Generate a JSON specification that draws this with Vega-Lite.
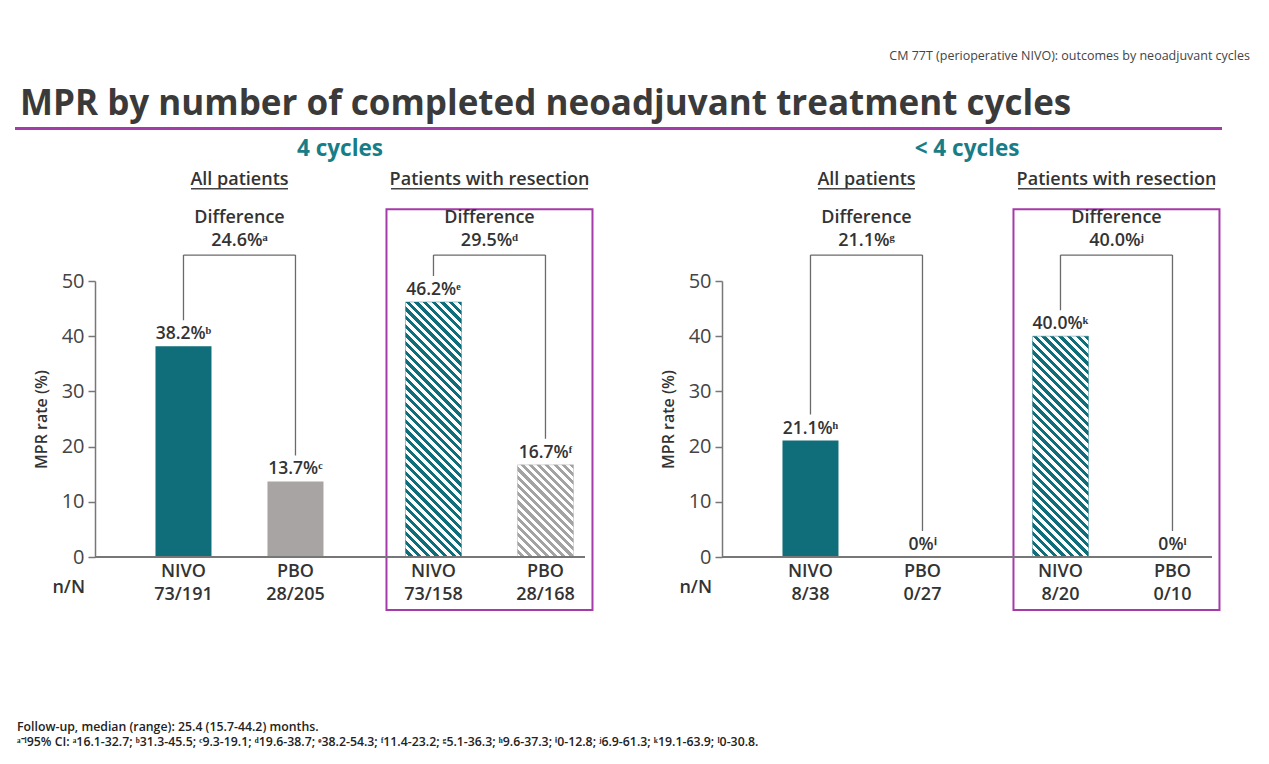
{
"$schema": "https://vega.github.io/schema/vega-lite/v6.json",
"background": "white",
"padding": {"left": 15, "top": 49, "right": 0, "bottom": 0},
"config": {"font": "Open Sans", "view": {"stroke": null}},
"title": {"text": "CM 77T (perioperative NIVO): outcomes by neoadjuvant cycles", "anchor": "end", "fontSize": 12.5, "fontWeight": "normal", "color": "#444", "offset": 25, "dx": 28},
"spacing": 7,
"vconcat": [
{
"width": 1047, "height": 3,
"title": {"text": "MPR by number of completed neoadjuvant treatment cycles", "anchor": "start", "frame": "group", "fontSize": 35, "fontWeight": "bold", "color": "#3a3a3a", "offset": 5, "dx": -75},
"data": {"values": [{"t": "rule"}]},
"mark": {"type": "bar", "width": 1207, "color": "#a53aa9"},
"encoding": {"x": {"field": "t", "type": "nominal", "axis": null}}
},
{
"data": {"values": [
{"cycles":"4 cycles","group":"All patients","arm":"NIVO","value":38.2,"label":"38.2%ᵇ","nn":"NIVO\n73/191","diff":"Difference\n24.6%ᵃ"},
{"cycles":"4 cycles","group":"All patients","arm":"PBO","value":13.7,"label":"13.7%ᶜ","nn":"PBO\n28/205","diff":"Difference\n24.6%ᵃ"},
{"cycles":"4 cycles","group":"Patients with resection","arm":"NIVO","value":46.2,"label":"46.2%ᵉ","nn":"NIVO\n73/158","diff":"Difference\n29.5%ᵈ"},
{"cycles":"4 cycles","group":"Patients with resection","arm":"PBO","value":16.7,"label":"16.7%ᶠ","nn":"PBO\n28/168","diff":"Difference\n29.5%ᵈ"},
{"cycles":"< 4 cycles","group":"All patients","arm":"NIVO","value":21.1,"label":"21.1%ʰ","nn":"NIVO\n8/38","diff":"Difference\n21.1%ᵍ"},
{"cycles":"< 4 cycles","group":"All patients","arm":"PBO","value":0,"label":"0%ⁱ","nn":"PBO\n0/27","diff":"Difference\n21.1%ᵍ"},
{"cycles":"< 4 cycles","group":"Patients with resection","arm":"NIVO","value":40.0,"label":"40.0%ᵏ","nn":"NIVO\n8/20","diff":"Difference\n40.0%ʲ"},
{"cycles":"< 4 cycles","group":"Patients with resection","arm":"PBO","value":0,"label":"0%ˡ","nn":"PBO\n0/10","diff":"Difference\n40.0%ʲ"}
]},
"facet": {"column": {"field": "cycles", "type": "nominal", "sort": ["4 cycles", "< 4 cycles"], "title": null,
  "header": {"labelFontSize": 22.5, "labelFontWeight": "bold", "labelColor": "#177d87", "labelPadding": 10, "labelFont": "Open Sans"}}},
"spacing": 66,
"title": {"text": "Follow-up, median (range): 25.4 (15.7-44.2) months.", "subtitle": "ᵃ⁻ˡ95% CI: ᵃ16.1-32.7; ᵇ31.3-45.5; ᶜ9.3-19.1; ᵈ19.6-38.7; ᵉ38.2-54.3; ᶠ11.4-23.2; ᵍ5.1-36.3; ʰ9.6-37.3; ⁱ0-12.8; ʲ6.9-61.3; ᵏ19.1-63.9; ˡ0-30.8.", "orient": "bottom", "anchor": "start", "frame": "group", "fontSize": 12.3, "subtitleFontSize": 12.3, "fontWeight": 600, "subtitleFontWeight": 600, "color": "#222", "subtitleColor": "#222", "subtitlePadding": 3, "offset": 110, "dx": -78},
"resolve": {"axis": {"y": "independent"}},
"spec": {
"width": 490, "height": 276,
"layer": [
{
"transform": [{"filter": "datum.arm == 'NIVO' && datum.group == 'Patients with resection'"}],
"mark": {"type": "bar", "width": 206, "fillOpacity": 0, "stroke": "#a53aa9", "strokeWidth": 2},
"encoding": {"x": {"field": "group", "type": "nominal"}, "y": {"datum": 63}, "y2": {"datum": -9.6}}
},
{
"transform": [{"filter": "datum.group == 'All patients'"}],
"mark": {"type": "bar"},
"encoding": {
"x": {"field": "group", "type": "nominal", "scale": {"domain": ["All patients", "Patients with resection"], "paddingInner": 0.328, "paddingOuter": 0.144, "align": 0.84}, "axis": {"labels": false, "ticks": false, "domain": false, "title": null, "grid": false}},
"xOffset": {"field": "arm", "type": "nominal", "scale": {"domain": ["NIVO", "PBO"], "paddingInner": 0.5, "paddingOuter": 0}},
"y": {"field": "value", "type": "quantitative", "scale": {"domain": [0, 50], "nice": false},
  "axis": {"values": [0, 10, 20, 30, 40, 50], "title": "MPR rate (%)", "titleFontSize": 16, "titleFontWeight": 600, "titleColor": "#333", "titlePadding": 12, "labelFontSize": 20, "labelColor": "#444", "labelPadding": 4, "tickSize": 7, "tickColor": "#777", "tickWidth": 1.5, "domainColor": "#777", "domainWidth": 1.5, "grid": false}},
"fill": {"field": "arm", "type": "nominal", "scale": {"domain": ["NIVO", "PBO"], "range": ["#0f6e7a", "#a8a4a4"]}, "legend": null}
}
},
{
"transform": [{"filter": "datum.cycles == '4 cycles' && datum.group == 'Patients with resection' && datum.arm == 'NIVO'"}],
"mark": {"type": "bar", "stroke": "#0f6e7a", "strokeWidth": 0.8, "strokeOpacity": 0.5, "fill": {"gradient": "linear", "x1": 1, "y1": 0, "x2": 0.7445, "y2": 1.1635, "stops": [
{"offset":0,"color":"#0f6e7a"},
{"offset":0.0139,"color":"#0f6e7a"},{"offset":0.0139,"color":"#fff"},{"offset":0.0278,"color":"#fff"},{"offset":0.0278,"color":"#0f6e7a"},
{"offset":0.0417,"color":"#0f6e7a"},{"offset":0.0417,"color":"#fff"},{"offset":0.0556,"color":"#fff"},{"offset":0.0556,"color":"#0f6e7a"},
{"offset":0.0694,"color":"#0f6e7a"},{"offset":0.0694,"color":"#fff"},{"offset":0.0833,"color":"#fff"},{"offset":0.0833,"color":"#0f6e7a"},
{"offset":0.0972,"color":"#0f6e7a"},{"offset":0.0972,"color":"#fff"},{"offset":0.1111,"color":"#fff"},{"offset":0.1111,"color":"#0f6e7a"},
{"offset":0.125,"color":"#0f6e7a"},{"offset":0.125,"color":"#fff"},{"offset":0.1389,"color":"#fff"},{"offset":0.1389,"color":"#0f6e7a"},
{"offset":0.1528,"color":"#0f6e7a"},{"offset":0.1528,"color":"#fff"},{"offset":0.1667,"color":"#fff"},{"offset":0.1667,"color":"#0f6e7a"},
{"offset":0.1806,"color":"#0f6e7a"},{"offset":0.1806,"color":"#fff"},{"offset":0.1944,"color":"#fff"},{"offset":0.1944,"color":"#0f6e7a"},
{"offset":0.2083,"color":"#0f6e7a"},{"offset":0.2083,"color":"#fff"},{"offset":0.2222,"color":"#fff"},{"offset":0.2222,"color":"#0f6e7a"},
{"offset":0.2361,"color":"#0f6e7a"},{"offset":0.2361,"color":"#fff"},{"offset":0.25,"color":"#fff"},{"offset":0.25,"color":"#0f6e7a"},
{"offset":0.2639,"color":"#0f6e7a"},{"offset":0.2639,"color":"#fff"},{"offset":0.2778,"color":"#fff"},{"offset":0.2778,"color":"#0f6e7a"},
{"offset":0.2917,"color":"#0f6e7a"},{"offset":0.2917,"color":"#fff"},{"offset":0.3056,"color":"#fff"},{"offset":0.3056,"color":"#0f6e7a"},
{"offset":0.3194,"color":"#0f6e7a"},{"offset":0.3194,"color":"#fff"},{"offset":0.3333,"color":"#fff"},{"offset":0.3333,"color":"#0f6e7a"},
{"offset":0.3472,"color":"#0f6e7a"},{"offset":0.3472,"color":"#fff"},{"offset":0.3611,"color":"#fff"},{"offset":0.3611,"color":"#0f6e7a"},
{"offset":0.375,"color":"#0f6e7a"},{"offset":0.375,"color":"#fff"},{"offset":0.3889,"color":"#fff"},{"offset":0.3889,"color":"#0f6e7a"},
{"offset":0.4028,"color":"#0f6e7a"},{"offset":0.4028,"color":"#fff"},{"offset":0.4167,"color":"#fff"},{"offset":0.4167,"color":"#0f6e7a"},
{"offset":0.4306,"color":"#0f6e7a"},{"offset":0.4306,"color":"#fff"},{"offset":0.4444,"color":"#fff"},{"offset":0.4444,"color":"#0f6e7a"},
{"offset":0.4583,"color":"#0f6e7a"},{"offset":0.4583,"color":"#fff"},{"offset":0.4722,"color":"#fff"},{"offset":0.4722,"color":"#0f6e7a"},
{"offset":0.4861,"color":"#0f6e7a"},{"offset":0.4861,"color":"#fff"},{"offset":0.5,"color":"#fff"},{"offset":0.5,"color":"#0f6e7a"},
{"offset":0.5139,"color":"#0f6e7a"},{"offset":0.5139,"color":"#fff"},{"offset":0.5278,"color":"#fff"},{"offset":0.5278,"color":"#0f6e7a"},
{"offset":0.5417,"color":"#0f6e7a"},{"offset":0.5417,"color":"#fff"},{"offset":0.5556,"color":"#fff"},{"offset":0.5556,"color":"#0f6e7a"},
{"offset":0.5694,"color":"#0f6e7a"},{"offset":0.5694,"color":"#fff"},{"offset":0.5833,"color":"#fff"},{"offset":0.5833,"color":"#0f6e7a"},
{"offset":0.5972,"color":"#0f6e7a"},{"offset":0.5972,"color":"#fff"},{"offset":0.6111,"color":"#fff"},{"offset":0.6111,"color":"#0f6e7a"},
{"offset":0.625,"color":"#0f6e7a"},{"offset":0.625,"color":"#fff"},{"offset":0.6389,"color":"#fff"},{"offset":0.6389,"color":"#0f6e7a"},
{"offset":0.6528,"color":"#0f6e7a"},{"offset":0.6528,"color":"#fff"},{"offset":0.6667,"color":"#fff"},{"offset":0.6667,"color":"#0f6e7a"},
{"offset":0.6806,"color":"#0f6e7a"},{"offset":0.6806,"color":"#fff"},{"offset":0.6944,"color":"#fff"},{"offset":0.6944,"color":"#0f6e7a"},
{"offset":0.7083,"color":"#0f6e7a"},{"offset":0.7083,"color":"#fff"},{"offset":0.7222,"color":"#fff"},{"offset":0.7222,"color":"#0f6e7a"},
{"offset":0.7361,"color":"#0f6e7a"},{"offset":0.7361,"color":"#fff"},{"offset":0.75,"color":"#fff"},{"offset":0.75,"color":"#0f6e7a"},
{"offset":0.7639,"color":"#0f6e7a"},{"offset":0.7639,"color":"#fff"},{"offset":0.7778,"color":"#fff"},{"offset":0.7778,"color":"#0f6e7a"},
{"offset":0.7917,"color":"#0f6e7a"},{"offset":0.7917,"color":"#fff"},{"offset":0.8056,"color":"#fff"},{"offset":0.8056,"color":"#0f6e7a"},
{"offset":0.8194,"color":"#0f6e7a"},{"offset":0.8194,"color":"#fff"},{"offset":0.8333,"color":"#fff"},{"offset":0.8333,"color":"#0f6e7a"},
{"offset":0.8472,"color":"#0f6e7a"},{"offset":0.8472,"color":"#fff"},{"offset":0.8611,"color":"#fff"},{"offset":0.8611,"color":"#0f6e7a"},
{"offset":0.875,"color":"#0f6e7a"},{"offset":0.875,"color":"#fff"},{"offset":0.8889,"color":"#fff"},{"offset":0.8889,"color":"#0f6e7a"},
{"offset":0.9028,"color":"#0f6e7a"},{"offset":0.9028,"color":"#fff"},{"offset":0.9167,"color":"#fff"},{"offset":0.9167,"color":"#0f6e7a"},
{"offset":0.9306,"color":"#0f6e7a"},{"offset":0.9306,"color":"#fff"},{"offset":0.9444,"color":"#fff"},{"offset":0.9444,"color":"#0f6e7a"},
{"offset":0.9583,"color":"#0f6e7a"},{"offset":0.9583,"color":"#fff"},{"offset":0.9722,"color":"#fff"},{"offset":0.9722,"color":"#0f6e7a"},
{"offset":0.9861,"color":"#0f6e7a"},{"offset":0.9861,"color":"#fff"},{"offset":1,"color":"#fff"}
]}},
"encoding": {"x": {"field": "group", "type": "nominal"}, "xOffset": {"field": "arm", "type": "nominal"}, "y": {"field": "value", "type": "quantitative"}}
},
{
"transform": [{"filter": "datum.cycles == '< 4 cycles' && datum.group == 'Patients with resection' && datum.arm == 'NIVO'"}],
"mark": {"type": "bar", "stroke": "#0f6e7a", "strokeWidth": 0.8, "strokeOpacity": 0.5, "fill": {"gradient": "linear", "x1": 1, "y1": 0, "x2": 0.7013, "y2": 1.1779, "stops": [
{"offset":0,"color":"#0f6e7a"},
{"offset":0.0156,"color":"#0f6e7a"},{"offset":0.0156,"color":"#fff"},{"offset":0.0313,"color":"#fff"},{"offset":0.0313,"color":"#0f6e7a"},
{"offset":0.0469,"color":"#0f6e7a"},{"offset":0.0469,"color":"#fff"},{"offset":0.0625,"color":"#fff"},{"offset":0.0625,"color":"#0f6e7a"},
{"offset":0.0781,"color":"#0f6e7a"},{"offset":0.0781,"color":"#fff"},{"offset":0.0938,"color":"#fff"},{"offset":0.0938,"color":"#0f6e7a"},
{"offset":0.1094,"color":"#0f6e7a"},{"offset":0.1094,"color":"#fff"},{"offset":0.125,"color":"#fff"},{"offset":0.125,"color":"#0f6e7a"},
{"offset":0.1406,"color":"#0f6e7a"},{"offset":0.1406,"color":"#fff"},{"offset":0.1563,"color":"#fff"},{"offset":0.1563,"color":"#0f6e7a"},
{"offset":0.1719,"color":"#0f6e7a"},{"offset":0.1719,"color":"#fff"},{"offset":0.1875,"color":"#fff"},{"offset":0.1875,"color":"#0f6e7a"},
{"offset":0.2031,"color":"#0f6e7a"},{"offset":0.2031,"color":"#fff"},{"offset":0.2188,"color":"#fff"},{"offset":0.2188,"color":"#0f6e7a"},
{"offset":0.2344,"color":"#0f6e7a"},{"offset":0.2344,"color":"#fff"},{"offset":0.25,"color":"#fff"},{"offset":0.25,"color":"#0f6e7a"},
{"offset":0.2656,"color":"#0f6e7a"},{"offset":0.2656,"color":"#fff"},{"offset":0.2813,"color":"#fff"},{"offset":0.2813,"color":"#0f6e7a"},
{"offset":0.2969,"color":"#0f6e7a"},{"offset":0.2969,"color":"#fff"},{"offset":0.3125,"color":"#fff"},{"offset":0.3125,"color":"#0f6e7a"},
{"offset":0.3281,"color":"#0f6e7a"},{"offset":0.3281,"color":"#fff"},{"offset":0.3438,"color":"#fff"},{"offset":0.3438,"color":"#0f6e7a"},
{"offset":0.3594,"color":"#0f6e7a"},{"offset":0.3594,"color":"#fff"},{"offset":0.375,"color":"#fff"},{"offset":0.375,"color":"#0f6e7a"},
{"offset":0.3906,"color":"#0f6e7a"},{"offset":0.3906,"color":"#fff"},{"offset":0.4063,"color":"#fff"},{"offset":0.4063,"color":"#0f6e7a"},
{"offset":0.4219,"color":"#0f6e7a"},{"offset":0.4219,"color":"#fff"},{"offset":0.4375,"color":"#fff"},{"offset":0.4375,"color":"#0f6e7a"},
{"offset":0.4531,"color":"#0f6e7a"},{"offset":0.4531,"color":"#fff"},{"offset":0.4688,"color":"#fff"},{"offset":0.4688,"color":"#0f6e7a"},
{"offset":0.4844,"color":"#0f6e7a"},{"offset":0.4844,"color":"#fff"},{"offset":0.5,"color":"#fff"},{"offset":0.5,"color":"#0f6e7a"},
{"offset":0.5156,"color":"#0f6e7a"},{"offset":0.5156,"color":"#fff"},{"offset":0.5313,"color":"#fff"},{"offset":0.5313,"color":"#0f6e7a"},
{"offset":0.5469,"color":"#0f6e7a"},{"offset":0.5469,"color":"#fff"},{"offset":0.5625,"color":"#fff"},{"offset":0.5625,"color":"#0f6e7a"},
{"offset":0.5781,"color":"#0f6e7a"},{"offset":0.5781,"color":"#fff"},{"offset":0.5938,"color":"#fff"},{"offset":0.5938,"color":"#0f6e7a"},
{"offset":0.6094,"color":"#0f6e7a"},{"offset":0.6094,"color":"#fff"},{"offset":0.625,"color":"#fff"},{"offset":0.625,"color":"#0f6e7a"},
{"offset":0.6406,"color":"#0f6e7a"},{"offset":0.6406,"color":"#fff"},{"offset":0.6563,"color":"#fff"},{"offset":0.6563,"color":"#0f6e7a"},
{"offset":0.6719,"color":"#0f6e7a"},{"offset":0.6719,"color":"#fff"},{"offset":0.6875,"color":"#fff"},{"offset":0.6875,"color":"#0f6e7a"},
{"offset":0.7031,"color":"#0f6e7a"},{"offset":0.7031,"color":"#fff"},{"offset":0.7188,"color":"#fff"},{"offset":0.7188,"color":"#0f6e7a"},
{"offset":0.7344,"color":"#0f6e7a"},{"offset":0.7344,"color":"#fff"},{"offset":0.75,"color":"#fff"},{"offset":0.75,"color":"#0f6e7a"},
{"offset":0.7656,"color":"#0f6e7a"},{"offset":0.7656,"color":"#fff"},{"offset":0.7813,"color":"#fff"},{"offset":0.7813,"color":"#0f6e7a"},
{"offset":0.7969,"color":"#0f6e7a"},{"offset":0.7969,"color":"#fff"},{"offset":0.8125,"color":"#fff"},{"offset":0.8125,"color":"#0f6e7a"},
{"offset":0.8281,"color":"#0f6e7a"},{"offset":0.8281,"color":"#fff"},{"offset":0.8438,"color":"#fff"},{"offset":0.8438,"color":"#0f6e7a"},
{"offset":0.8594,"color":"#0f6e7a"},{"offset":0.8594,"color":"#fff"},{"offset":0.875,"color":"#fff"},{"offset":0.875,"color":"#0f6e7a"},
{"offset":0.8906,"color":"#0f6e7a"},{"offset":0.8906,"color":"#fff"},{"offset":0.9063,"color":"#fff"},{"offset":0.9063,"color":"#0f6e7a"},
{"offset":0.9219,"color":"#0f6e7a"},{"offset":0.9219,"color":"#fff"},{"offset":0.9375,"color":"#fff"},{"offset":0.9375,"color":"#0f6e7a"},
{"offset":0.9531,"color":"#0f6e7a"},{"offset":0.9531,"color":"#fff"},{"offset":0.9688,"color":"#fff"},{"offset":0.9688,"color":"#0f6e7a"},
{"offset":0.9844,"color":"#0f6e7a"},{"offset":0.9844,"color":"#fff"},{"offset":1,"color":"#fff"}
]}},
"encoding": {"x": {"field": "group", "type": "nominal"}, "xOffset": {"field": "arm", "type": "nominal"}, "y": {"field": "value", "type": "quantitative"}}
},
{
"transform": [{"filter": "datum.cycles == '4 cycles' && datum.group == 'Patients with resection' && datum.arm == 'PBO'"}],
"mark": {"type": "bar", "stroke": "#a3a3a3", "strokeWidth": 0.8, "strokeOpacity": 0.5, "fill": {"gradient": "linear", "x1": 1, "y1": 0, "x2": 0.2867, "y2": 1.1742, "stops": [
{"offset":0,"color":"#a3a3a3"},
{"offset":0.0278,"color":"#a3a3a3"},{"offset":0.0278,"color":"#fff"},{"offset":0.0556,"color":"#fff"},{"offset":0.0556,"color":"#a3a3a3"},
{"offset":0.0833,"color":"#a3a3a3"},{"offset":0.0833,"color":"#fff"},{"offset":0.1111,"color":"#fff"},{"offset":0.1111,"color":"#a3a3a3"},
{"offset":0.1389,"color":"#a3a3a3"},{"offset":0.1389,"color":"#fff"},{"offset":0.1667,"color":"#fff"},{"offset":0.1667,"color":"#a3a3a3"},
{"offset":0.1944,"color":"#a3a3a3"},{"offset":0.1944,"color":"#fff"},{"offset":0.2222,"color":"#fff"},{"offset":0.2222,"color":"#a3a3a3"},
{"offset":0.25,"color":"#a3a3a3"},{"offset":0.25,"color":"#fff"},{"offset":0.2778,"color":"#fff"},{"offset":0.2778,"color":"#a3a3a3"},
{"offset":0.3056,"color":"#a3a3a3"},{"offset":0.3056,"color":"#fff"},{"offset":0.3333,"color":"#fff"},{"offset":0.3333,"color":"#a3a3a3"},
{"offset":0.3611,"color":"#a3a3a3"},{"offset":0.3611,"color":"#fff"},{"offset":0.3889,"color":"#fff"},{"offset":0.3889,"color":"#a3a3a3"},
{"offset":0.4167,"color":"#a3a3a3"},{"offset":0.4167,"color":"#fff"},{"offset":0.4444,"color":"#fff"},{"offset":0.4444,"color":"#a3a3a3"},
{"offset":0.4722,"color":"#a3a3a3"},{"offset":0.4722,"color":"#fff"},{"offset":0.5,"color":"#fff"},{"offset":0.5,"color":"#a3a3a3"},
{"offset":0.5278,"color":"#a3a3a3"},{"offset":0.5278,"color":"#fff"},{"offset":0.5556,"color":"#fff"},{"offset":0.5556,"color":"#a3a3a3"},
{"offset":0.5833,"color":"#a3a3a3"},{"offset":0.5833,"color":"#fff"},{"offset":0.6111,"color":"#fff"},{"offset":0.6111,"color":"#a3a3a3"},
{"offset":0.6389,"color":"#a3a3a3"},{"offset":0.6389,"color":"#fff"},{"offset":0.6667,"color":"#fff"},{"offset":0.6667,"color":"#a3a3a3"},
{"offset":0.6944,"color":"#a3a3a3"},{"offset":0.6944,"color":"#fff"},{"offset":0.7222,"color":"#fff"},{"offset":0.7222,"color":"#a3a3a3"},
{"offset":0.75,"color":"#a3a3a3"},{"offset":0.75,"color":"#fff"},{"offset":0.7778,"color":"#fff"},{"offset":0.7778,"color":"#a3a3a3"},
{"offset":0.8056,"color":"#a3a3a3"},{"offset":0.8056,"color":"#fff"},{"offset":0.8333,"color":"#fff"},{"offset":0.8333,"color":"#a3a3a3"},
{"offset":0.8611,"color":"#a3a3a3"},{"offset":0.8611,"color":"#fff"},{"offset":0.8889,"color":"#fff"},{"offset":0.8889,"color":"#a3a3a3"},
{"offset":0.9167,"color":"#a3a3a3"},{"offset":0.9167,"color":"#fff"},{"offset":0.9444,"color":"#fff"},{"offset":0.9444,"color":"#a3a3a3"},
{"offset":0.9722,"color":"#a3a3a3"},{"offset":0.9722,"color":"#fff"},{"offset":1,"color":"#fff"}
]}},
"encoding": {"x": {"field": "group", "type": "nominal"}, "xOffset": {"field": "arm", "type": "nominal"}, "y": {"field": "value", "type": "quantitative"}}
},
{
"mark": {"type": "rule", "color": "#777", "strokeWidth": 1.5},
"encoding": {"y": {"datum": 0}}
},
{
"mark": {"type": "rule", "color": "#6a6a6a", "strokeWidth": 1.3, "strokeDash": [0, 26, 1000]},
"encoding": {"x": {"field": "group", "type": "nominal"}, "xOffset": {"field": "arm", "type": "nominal"}, "y": {"field": "value", "type": "quantitative"}, "y2": {"datum": 54.7}}
},
{
"transform": [{"filter": "datum.arm == 'NIVO'"}],
"mark": {"type": "tick", "orient": "horizontal", "size": 112, "thickness": 1.3, "color": "#6a6a6a", "opacity": 1},
"encoding": {"x": {"field": "group", "type": "nominal"}, "y": {"datum": 54.7}}
},
{
"transform": [{"filter": "datum.arm == 'NIVO'"}],
"mark": {"type": "text", "baseline": "bottom", "dy": -28, "fontSize": 18, "fontWeight": 600, "color": "#333", "lineBreak": "\n", "lineHeight": 23},
"encoding": {"x": {"field": "group", "type": "nominal"}, "y": {"datum": 54.7}, "text": {"field": "diff"}}
},
{
"transform": [{"filter": "datum.arm == 'NIVO'"}],
"mark": {"type": "text", "baseline": "alphabetic", "dy": -4, "fontSize": 18, "fontWeight": 600, "color": "#333"},
"encoding": {"x": {"field": "group", "type": "nominal"}, "y": {"datum": 66.7}, "text": {"field": "group"}}
},
{
"transform": [{"filter": "datum.arm == 'NIVO' && datum.group == 'All patients'"}],
"mark": {"type": "tick", "orient": "horizontal", "size": 97, "thickness": 1.5, "color": "#444", "opacity": 1},
"encoding": {"x": {"field": "group", "type": "nominal"}, "y": {"datum": 66.7}}
},
{
"transform": [{"filter": "datum.arm == 'NIVO' && datum.group == 'Patients with resection'"}],
"mark": {"type": "tick", "orient": "horizontal", "size": 197, "thickness": 1.5, "color": "#444", "opacity": 1},
"encoding": {"x": {"field": "group", "type": "nominal"}, "y": {"datum": 66.7}}
},
{
"mark": {"type": "text", "baseline": "bottom", "dy": -3, "fontSize": 17.5, "fontWeight": 600, "color": "#333"},
"encoding": {"x": {"field": "group", "type": "nominal"}, "xOffset": {"field": "arm", "type": "nominal"}, "y": {"field": "value", "type": "quantitative"}, "text": {"field": "label"}}
},
{
"mark": {"type": "text", "baseline": "top", "dy": 6, "fontSize": 18, "fontWeight": 600, "color": "#333", "lineBreak": "\n", "lineHeight": 23},
"encoding": {"x": {"field": "group", "type": "nominal"}, "xOffset": {"field": "arm", "type": "nominal"}, "y": {"datum": 0}, "text": {"field": "nn"}}
},
{
"transform": [{"filter": "datum.arm == 'NIVO' && datum.group == 'All patients'"}],
"mark": {"type": "text", "align": "right", "baseline": "middle", "dx": -10, "dy": 31, "fontSize": 18, "fontWeight": 600, "color": "#333"},
"encoding": {"x": {"value": 0}, "y": {"datum": 0}, "text": {"value": "n/N"}}
}
]
}
}
]
}
